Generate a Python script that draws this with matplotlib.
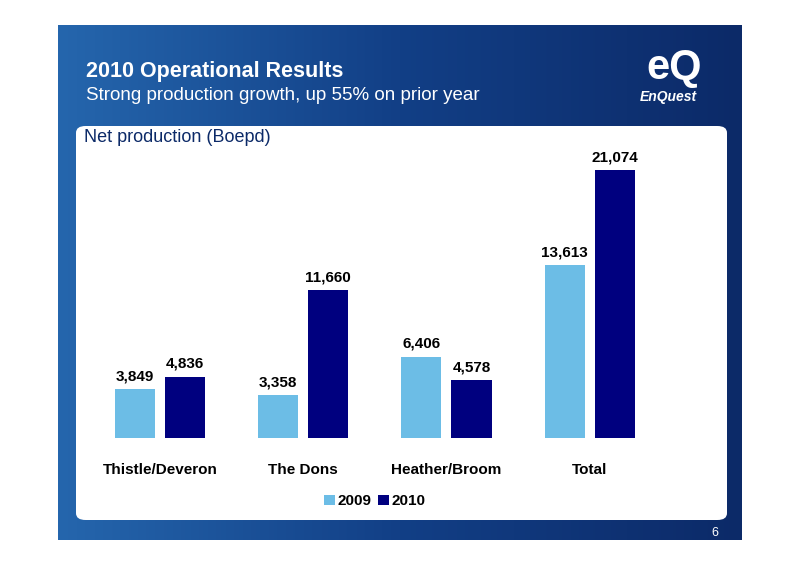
import matplotlib.pyplot as plt
import numpy as np
from matplotlib.patches import FancyBboxPatch, Rectangle

categories = ["Thistle/Deveron", "The Dons", "Heather/Broom", "Total"]
values_2009 = [3849, 3358, 6406, 13613]
values_2010 = [4836, 11660, 4578, 21074]
series_names = ["2009", "2010"]

W, H = 800, 565
fig = plt.figure(figsize=(W / 100, H / 100), dpi=100)
fig.patch.set_facecolor("white")


def fx(px):
    return px / W


def fy(py):
    return 1 - py / H


# blue gradient panel
bg = fig.add_axes([fx(58), fy(540), fx(742 - 58), (540 - 25) / H])
grad = np.linspace(0, 1, 256).reshape(1, -1)
grad = np.vstack([grad] * 10)
from matplotlib.colors import LinearSegmentedColormap
cmap = LinearSegmentedColormap.from_list("bg", ["#2566ad", "#123f86", "#0c2a68"])
bg.imshow(grad, aspect="auto", cmap=cmap, extent=[0, 1, 0, 1])
bg.set_axis_off()

# white content box
fig.patches.append(FancyBboxPatch((fx(76), fy(520)), fx(727 - 76), (520 - 126) / H,
                                  boxstyle="round,pad=0,rounding_size=0.012",
                                  transform=fig.transFigure, facecolor="white",
                                  edgecolor="none", zorder=1))

fig.text(fx(86), fy(72), "2010 Operational Results", color="white",
         fontsize=15.5, fontweight="bold", family="Liberation Sans", va="center")
fig.text(fx(86), fy(96), "Strong production growth, up 55% on prior year", color="white",
         fontsize=13.5, family="Liberation Sans", va="center")
fig.text(fx(646), fy(68), "eQ", color="white", fontsize=30, fontweight="bold",
         family="Liberation Sans", va="center")
fig.text(fx(640), fy(97), "EnQuest", color="white", fontsize=10, fontweight="bold",
         family="Liberation Sans", va="center", style="italic")
fig.text(fx(715), fy(533), "6", color="white", fontsize=9, family="Liberation Sans",
         ha="center", va="center")

fig.text(fx(84), fy(138), "Net production (Boepd)", color="#0c2a68", fontsize=13,
         family="Liberation Sans", va="center", zorder=5)

# bar chart
ax = fig.add_axes([fx(88.3), fy(438), fx(573), (438 - 133) / H], zorder=3)
ax.patch.set_alpha(0)
x = np.arange(len(categories))
w = 0.28
off = 0.175
b1 = ax.bar(x - off, values_2009, w, color="#6cbde6", label=series_names[0])
b2 = ax.bar(x + off, values_2010, w, color="#00007f", label=series_names[1])
for bars, vals in ((b1, values_2009), (b2, values_2010)):
    for r, v in zip(bars, vals):
        ax.text(r.get_x() + r.get_width() / 2, v + 450, f"{v:,}", ha="center",
                va="bottom", fontsize=11, fontweight="bold", family="Liberation Sans")
ax.set_xlim(-0.5, 3.5)
ax.set_ylim(0, 24000)
ax.set_xticks(x)
ax.set_xticklabels(categories, fontsize=11, fontweight="bold", family="Liberation Sans")
ax.tick_params(axis="x", length=0, pad=18)
ax.set_yticks([])
for s in ax.spines.values():
    s.set_visible(False)
ax.legend(loc="upper center", bbox_to_anchor=(0.5, -0.14), ncol=2, frameon=False,
          handlelength=0.7, handleheight=0.7, handletextpad=0.2, columnspacing=0.4,
          prop={"family": "Liberation Sans", "weight": "bold", "size": 11})

fig.savefig("out.png", dpi=100)
